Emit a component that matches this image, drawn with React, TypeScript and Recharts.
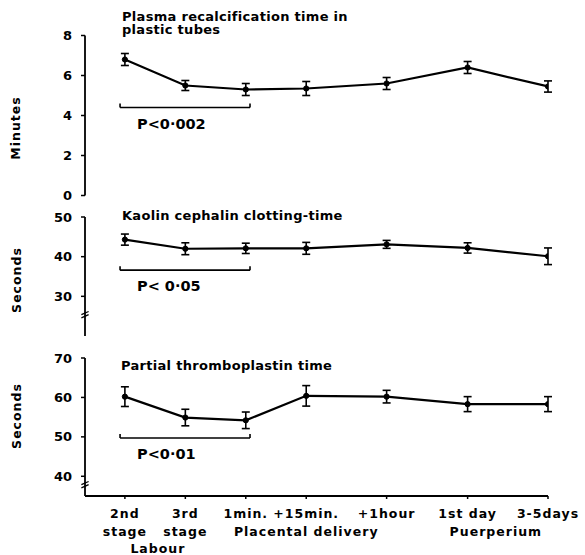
import React from 'react';
import { LineChart, Line, XAxis, YAxis, ErrorBar, ReferenceLine } from 'recharts';

// x positions of the sampling times (uneven spacing as in the figure)
const xPos = [0, 1, 2, 3, 4.33, 5.67, 7];
const xLine1 = ['2nd', '3rd', '1min.', '+15min.', '+1hour', '1st day', '3-5days'];
const xLine2 = ['stage', 'stage', '', 'Placental delivery', '', 'Puerperium', ''];
const xLine3 = ['Labour', '', '', '', '', '', ''];

// Plasma recalcification time (minutes)
const prtMean = [6.8, 5.5, 5.3, 5.35, 5.6, 6.4, 5.45];
const prtErr = [0.3, 0.25, 0.3, 0.35, 0.3, 0.3, 0.28];
// Kaolin cephalin clotting time (seconds)
const kcctMean = [44.3, 42.0, 42.1, 42.1, 43.1, 42.2, 40.1];
const kcctErr = [1.4, 1.5, 1.3, 1.5, 1.0, 1.3, 2.1];
// Partial thromboplastin time (seconds)
const pttMean = [60.2, 54.9, 54.2, 60.4, 60.2, 58.3, 58.3];
const pttErr = [2.5, 2.1, 2.1, 2.6, 1.6, 1.9, 1.9];

const prtTicks = [0, 2, 4, 6, 8];
const kcctTicks = [30, 40, 50];
const pttTicks = [40, 50, 60, 70];

const pLabels = ['P<0·002', 'P< 0·05', 'P<0·01'];
const bracketFrom = -0.08;
const bracketTo = 2.07;
const bracketY = [4.4, 36.6, 49.7];

const FONT = '"DejaVu Sans", sans-serif';
const XMIN = -0.66;
const XMAX = 7;

const build = (mean: number[], err: number[]) =>
  xPos.map((x, i) => ({ x, y: mean[i], err: err[i] }));

const XTick = (props: any) => {
  const { x, y, payload } = props;
  const i = xPos.indexOf(payload.value);
  const st = { fontFamily: FONT, fontWeight: 'bold' as const, fontSize: 12.5, fill: '#000', letterSpacing: 1 };
  let l2x = x;
  let l2anchor: 'middle' | 'start' = 'middle';
  if (i === 5) {
    l2x = x - 18;
    l2anchor = 'start';
  }
  return (
    <g>
      <text x={x} y={y + 17} textAnchor="middle" style={st}>{xLine1[i]}</text>
      {xLine2[i] ? (
        <text x={l2x} y={y + 35} textAnchor={l2anchor} style={st}>{xLine2[i]}</text>
      ) : null}
      {xLine3[i] ? (
        <text x={x + 33} y={y + 52} textAnchor="middle" style={st}>{xLine3[i]}</text>
      ) : null}
    </g>
  );
};

type PanelProps = {
  top: number;
  height: number;
  marginTop: number;
  marginBottom: number;
  domain: [number, number];
  ticks: number[];
  data: { x: number; y: number; err: number }[];
  bracketIdx: number;
  tickUnits: number;
  breakAt?: number;
  breakDy?: number;
  showX: boolean;
};

const Panel = (p: PanelProps) => {
  const by = bracketY[p.bracketIdx];
  const bw = 0.06;
  return (
    <div style={{ position: 'absolute', left: 0, top: p.top, width: 585, height: p.height }}>
      <LineChart
        width={585}
        height={p.height}
        data={p.data}
        margin={{ top: p.marginTop, right: 37, bottom: p.marginBottom, left: 0 }}
      >
        <XAxis
          type="number"
          dataKey="x"
          domain={[XMIN, XMAX]}
          ticks={xPos}
          interval={0}
          allowDataOverflow
          height={p.showX ? 59 : 0}
          axisLine={{ stroke: '#000', strokeWidth: 1.8 }}
          tickLine={p.showX ? { stroke: '#000', strokeWidth: 1.5 } : false}
          tickSize={p.showX ? 3 : 0}
          tick={p.showX ? <XTick /> : false}
        />
        <YAxis
          type="number"
          domain={p.domain}
          ticks={p.ticks}
          interval={0}
          allowDataOverflow
          width={85}
          axisLine={{ stroke: '#000', strokeWidth: 1.8 }}
          tickLine={{ stroke: '#000', strokeWidth: 1.5 }}
          tickSize={4}
          tickMargin={9}
          tick={{ fill: '#000', fontSize: 13, fontWeight: 'bold', fontFamily: FONT }}
        />
        {p.breakAt !== undefined ? (
          <ReferenceLine
            ifOverflow="visible"
            stroke="#000"
            strokeWidth={1.3}
            segment={[
              { x: XMIN - bw, y: p.breakAt + (p.breakDy as number) * 0.1 },
              { x: XMIN + bw, y: p.breakAt + (p.breakDy as number) * 1.1 },
            ]}
          />
        ) : null}
        {p.breakAt !== undefined ? (
          <ReferenceLine
            ifOverflow="visible"
            stroke="#000"
            strokeWidth={1.3}
            segment={[
              { x: XMIN - bw, y: p.breakAt - (p.breakDy as number) * 0.9 },
              { x: XMIN + bw, y: p.breakAt + (p.breakDy as number) * 0.1 },
            ]}
          />
        ) : null}
        <ReferenceLine
          ifOverflow="visible"
          stroke="#000"
          strokeWidth={1.6}
          segment={[
            { x: bracketFrom, y: by },
            { x: bracketTo, y: by },
          ]}
          label={(lp: any) => {
            const vb = lp.viewBox || {};
            return (
              <text
                x={(vb.x ?? 0) + 17}
                y={(vb.y ?? 0) + 21}
                style={{ fontFamily: FONT, fontWeight: 'bold', fontSize: 14.5, fill: '#000' }}
              >
                {pLabels[p.bracketIdx]}
              </text>
            );
          }}
        />
        <ReferenceLine
          ifOverflow="visible"
          stroke="#000"
          strokeWidth={1.6}
          segment={[
            { x: bracketFrom, y: by },
            { x: bracketFrom, y: by + p.tickUnits },
          ]}
        />
        <ReferenceLine
          ifOverflow="visible"
          stroke="#000"
          strokeWidth={1.6}
          segment={[
            { x: bracketTo, y: by },
            { x: bracketTo, y: by + p.tickUnits },
          ]}
        />
        <Line
          type="linear"
          dataKey="y"
          stroke="#000"
          strokeWidth={2.2}
          dot={{ r: 2.6, fill: '#000', stroke: '#000', strokeWidth: 1 }}
          isAnimationActive={false}
        >
          <ErrorBar dataKey="err" direction="y" width={4} stroke="#000" strokeWidth={1.6} />
        </Line>
      </LineChart>
    </div>
  );
};

const titleStyle = { fontFamily: FONT, fontWeight: 'bold' as const, fontSize: 13, fill: '#000', letterSpacing: 0.3 };
const yLabStyle = { fontFamily: FONT, fontWeight: 'bold' as const, fontSize: 12.5, fill: '#000', letterSpacing: 1 };

export default function App() {
  return (
    <div style={{ position: 'absolute', left: 0, top: 0, width: 585, height: 555, background: '#fff' }}>
      <Panel
        top={0}
        height={210}
        marginTop={35.5}
        marginBottom={14.5}
        domain={[0, 8]}
        ticks={prtTicks}
        data={build(prtMean, prtErr)}
        bracketIdx={0}
        tickUnits={0.2}
        showX={false}
      />
      <Panel
        top={210}
        height={130}
        marginTop={7}
        marginBottom={4}
        domain={[20, 50]}
        ticks={kcctTicks}
        data={build(kcctMean, kcctErr)}
        bracketIdx={1}
        tickUnits={1}
        breakAt={25.3}
        breakDy={0.8}
        showX={false}
      />
      <Panel
        top={340}
        height={215}
        marginTop={18}
        marginBottom={0}
        domain={[35, 70]}
        ticks={pttTicks}
        data={build(pttMean, pttErr)}
        bracketIdx={2}
        tickUnits={1}
        breakAt={37.8}
        breakDy={0.8}
        showX={true}
      />
      <svg width={585} height={555} style={{ position: 'absolute', left: 0, top: 0, pointerEvents: 'none' }}>
        <text x={122} y={20.5} style={titleStyle}>Plasma recalcification time in</text>
        <text x={122} y={34} style={titleStyle}>plastic tubes</text>
        <text x={122} y={220} style={titleStyle}>Kaolin cephalin clotting-time</text>
        <text x={121} y={370} style={titleStyle}>Partial thromboplastin time</text>
        <text x={20} y={128} transform="rotate(-90 20 128)" textAnchor="middle" style={yLabStyle}>Minutes</text>
        <text x={21} y={280} transform="rotate(-90 21 280)" textAnchor="middle" style={yLabStyle}>Seconds</text>
        <text x={21} y={416} transform="rotate(-90 21 416)" textAnchor="middle" style={yLabStyle}>Seconds</text>
      </svg>
    </div>
  );
}
